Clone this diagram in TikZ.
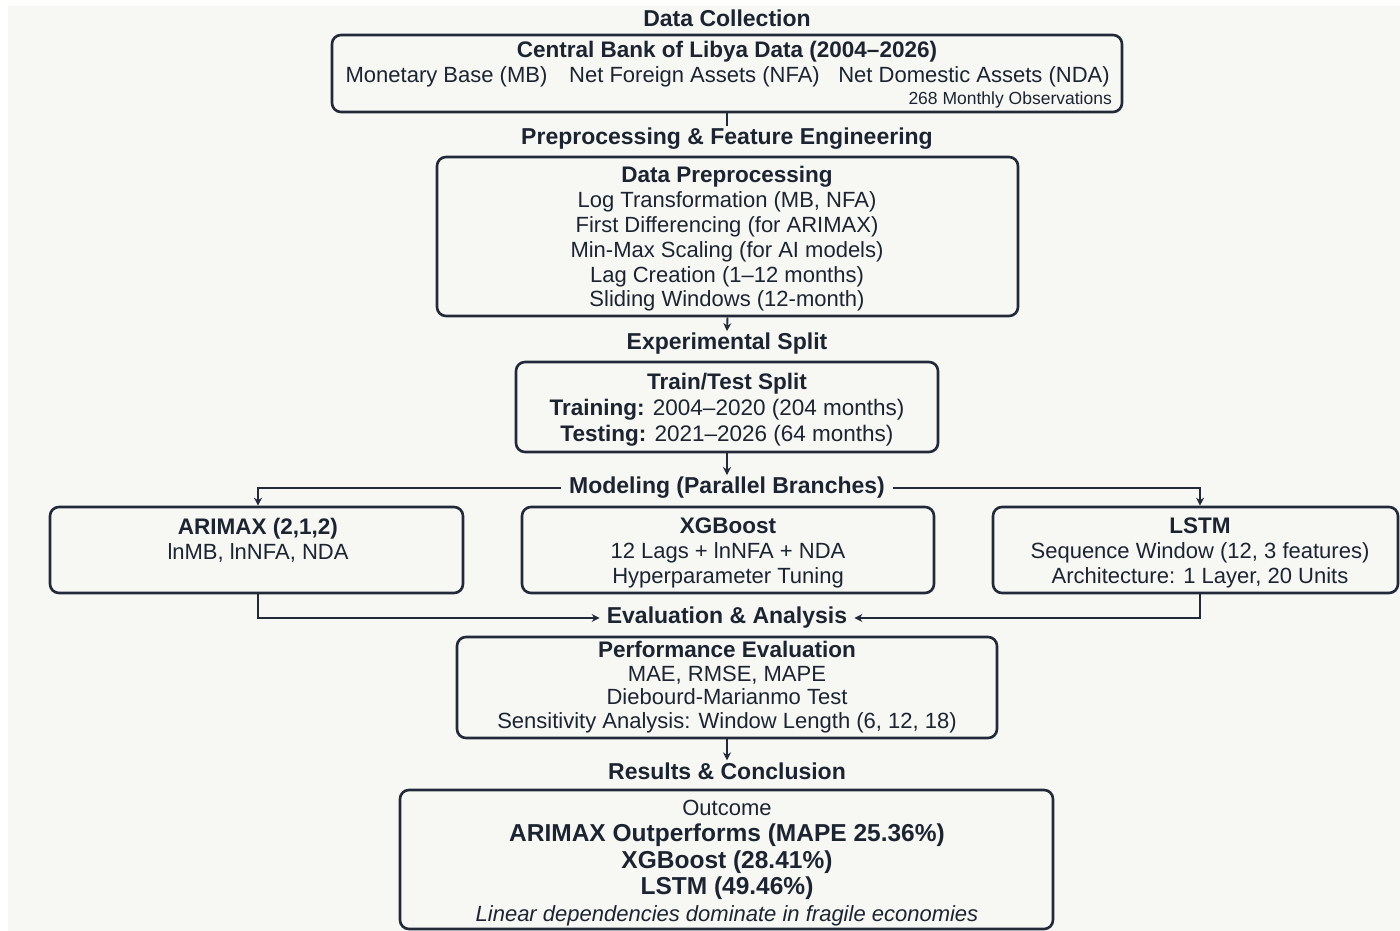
\documentclass[tikz,border=0pt]{standalone}
\usepackage{fontspec}
\setmainfont{Liberation Sans}
\usetikzlibrary{arrows.meta}
\definecolor{bgc}{RGB}{247,247,244}
\definecolor{ink}{RGB}{28,36,50}
\definecolor{linec}{RGB}{34,42,58}
\newcommand\fsHead{\fontsize{23}{26}\selectfont\bfseries}
\newcommand\fsReg{\fontsize{22}{25}\selectfont}
\newcommand\fsTitle{\fontsize{22.5}{25}\selectfont\bfseries}
\newcommand\fsSmall{\fontsize{17.5}{20}\selectfont}
\tikzset{
  box/.style={draw=linec, line width=2.6pt, rounded corners=9pt, inner sep=0pt},
  head/.style={text=ink, font=\fsHead, inner sep=2pt},
  txt/.style={text=ink, align=center, font=\fsReg, inner sep=0pt},
  conn/.style={draw=linec, line width=1.9pt},
  arr/.style={draw=linec, line width=1.9pt, -{Stealth[length=8pt,width=8pt]}},
}
\begin{document}
\begin{tikzpicture}[x=1pt,y=-1pt]
\useasboundingbox (0,0) rectangle (1400,931);
\fill[white] (0,0) rectangle (1400,931);
\fill[bgc] (8,6) rectangle (1400,931);

% headings
\node[head] (h1) at (727,18) {Data Collection};
\node[head] (h2) at (727,139) {Preprocessing \& Feature Engineering};
\node[head] (h3) at (727,344) {Experimental Split};
\node[head, inner xsep=8pt] (h4) at (727,488) {Modeling (Parallel Branches)};
\node[head, inner xsep=7pt] (h5) at (727,618) {Evaluation \& Analysis};
\node[head] (h6) at (727,771) {Results \& Conclusion};

% boxes
\node[box, minimum width=790pt, minimum height=77pt] (b1) at (727,73.5) {};
\node[box, minimum width=581pt, minimum height=159pt] (b2) at (727.5,236.5) {};
\node[box, minimum width=422pt, minimum height=90pt] (b3) at (727,407) {};
\node[box, minimum width=413pt, minimum height=86pt] (arimax) at (256.5,550) {};
\node[box, minimum width=412pt, minimum height=86pt] (xgb) at (728,550) {};
\node[box, minimum width=405pt, minimum height=86pt] (lstm) at (1195.5,550) {};
\node[box, minimum width=540pt, minimum height=101pt] (perf) at (727,687.5) {};
\node[box, minimum width=653pt, minimum height=139pt] (out) at (726.5,859.5) {};

% box texts
\node[txt, font=\fsTitle] (b1t) at (727,52) {Central Bank of Libya Data (2004–2026)};
\node[txt] (b1a) at (446.5,77) {Monetary Base (MB)};
\node[txt] (b1b) at (694.5,77) {Net Foreign Assets (NFA)};
\node[txt] (b1c) at (974,77) {Net Domestic Assets (NDA)};
\node[txt, font=\fsSmall, anchor=east] (b1d) at (1112,100) {268 Monthly Observations};

\node[txt, font=\fontsize{22}{24.8}\selectfont] (b2t) at (727,239)
  {{\fsTitle Data Preprocessing}\\Log Transformation (MB, NFA)\\First Differencing (for ARIMAX)\\Min-Max Scaling (for AI models)\\Lag Creation (1–12 months)\\Sliding Windows (12-month)};

\node[txt, font=\fontsize{22.5}{26}\selectfont] (b3t) at (727,410)
  {{\fsTitle Train/Test Split}\\\textbf{Training:} 2004–2020 (204 months)\\\textbf{Testing:} 2021–2026 (64 months)};

\node[txt] (arimaxt) at (258,540) {{\fsTitle ARIMAX (2,1,2)}\\lnMB, lnNFA, NDA};
\node[txt] (xgbt) at (728,553) {{\fsTitle XGBoost}\\12 Lags + lnNFA + NDA\\Hyperparameter Tuning};
\node[txt] (lstmt) at (1200,553) {{\fsTitle LSTM}\\Sequence Window (12, 3 features)\\Architecture: 1 Layer, 20 Units};

\node[txt, font=\fontsize{22}{23.7}\selectfont] (perft) at (727,687)
  {{\fsTitle Performance Evaluation}\\MAE, RMSE, MAPE\\Diebourd-Marianmo Test\\Sensitivity Analysis: Window Length (6, 12, 18)};

\node[txt, font=\fontsize{24.5}{26.5}\selectfont\bfseries] (outt) at (727,863)
  {{\fsReg\mdseries Outcome}\\ARIMAX Outperforms (MAPE 25.36\%)\\XGBoost (28.41\%)\\LSTM (49.46\%)\\{\fsReg\mdseries\itshape Linear dependencies dominate in fragile economies}};

% connectors
\draw[conn] (b1.south) -- (h2.north);
\draw[arr] (b2.south) -- (h3.north);
\draw[arr] (b3.south) -- (h4.north);
\draw[arr] (h4.west) -| ([xshift=1.5pt]arimax.north);
\draw[arr] (h4.east) -| ([xshift=4.5pt]lstm.north);
\draw[arr] ([xshift=1.5pt]arimax.south) |- (h5.west);
\draw[arr] ([xshift=4.5pt]lstm.south) |- (h5.east);
\draw[arr] (perf.south) -- (h6.north);
\end{tikzpicture}
\end{document}
